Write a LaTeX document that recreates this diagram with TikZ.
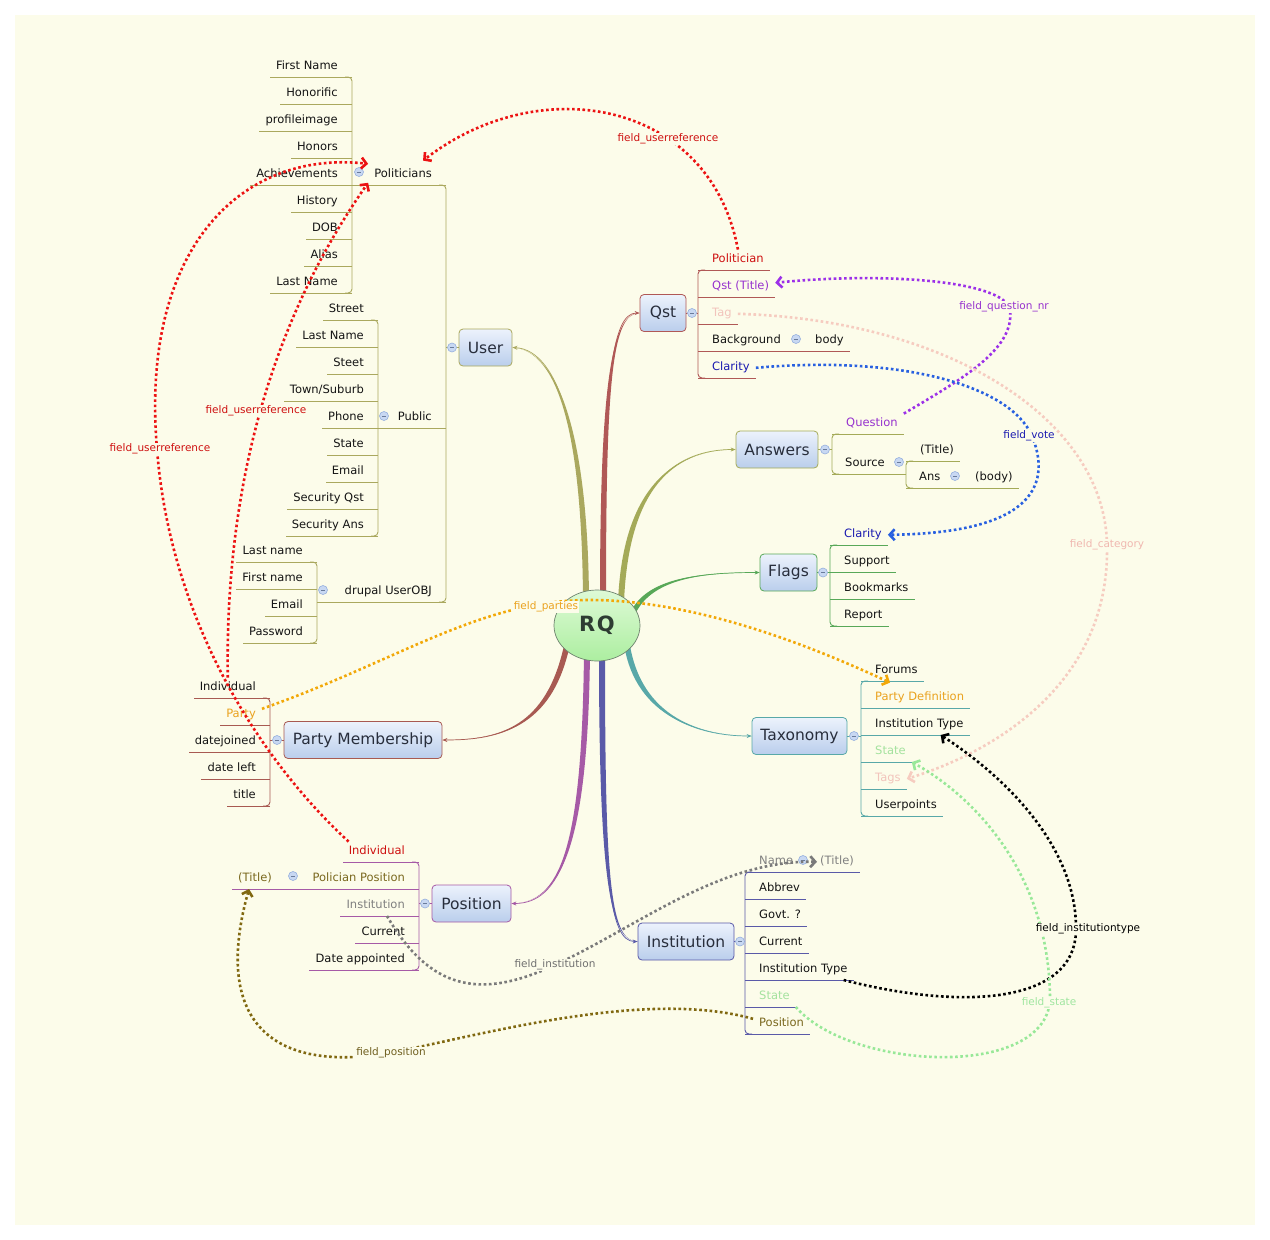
\documentclass[tikz,border=0pt]{standalone}
\usepackage{fontspec}
\setmainfont{DejaVu Sans}
\usetikzlibrary{arrows.meta,shapes.geometric,calc}

\definecolor{page}{RGB}{252,252,234}
\definecolor{ink}{RGB}{20,20,20}
\definecolor{topicInk}{RGB}{40,46,60}
\definecolor{topA}{RGB}{236,242,252}
\definecolor{topB}{RGB}{186,206,236}
\definecolor{rqA}{RGB}{222,250,214}
\definecolor{rqB}{RGB}{172,238,160}
\definecolor{rqD}{RGB}{110,130,110}
\definecolor{rqInk}{RGB}{45,60,50}
\definecolor{knobF}{RGB}{200,216,242}
\definecolor{knobD}{RGB}{150,176,222}
% branch colours
\definecolor{cUser}{RGB}{170,168,94}
\definecolor{cQst}{RGB}{176,88,86}
\definecolor{cAns}{RGB}{164,170,88}
\definecolor{cFlag}{RGB}{88,168,88}
\definecolor{cTax}{RGB}{88,168,168}
\definecolor{cInst}{RGB}{90,90,168}
\definecolor{cPos}{RGB}{166,90,166}
\definecolor{cPM}{RGB}{168,90,82}
% text colours
\definecolor{tRed}{RGB}{206,16,16}
\definecolor{tPurple}{RGB}{150,50,206}
\definecolor{tPink}{RGB}{242,196,188}
\definecolor{tBlue}{RGB}{26,26,176}
\definecolor{tOrange}{RGB}{234,162,30}
\definecolor{tGreen}{RGB}{164,226,158}
\definecolor{tGray}{RGB}{128,128,128}
\definecolor{tOlive}{RGB}{122,104,30}
% relationship colours
\definecolor{rRed}{RGB}{236,18,18}
\definecolor{rPurple}{RGB}{156,48,232}
\definecolor{rBlue}{RGB}{40,96,224}
\definecolor{rPink}{RGB}{246,204,192}
\definecolor{rOrange}{RGB}{242,168,8}
\definecolor{rGreen}{RGB}{152,232,152}
\definecolor{rGray}{RGB}{122,122,122}
\definecolor{rOlive}{RGB}{128,104,16}
\colorlet{br}{black}

\pgfdeclarelayer{back}
\pgfsetlayers{back,main}

\newcommand\kidfont{\fontsize{11.5}{13}\selectfont}
% vertical bracket joining the underlines of a group of children
\newcommand\spine[4]{\draw[tline,rounded corners=4pt] (#4,#2) -- (#1,#2) -- (#1,#3) -- (#4,#3);}
% child on the right / left of its bracket, underlined
\newcommand\rkid[5][]{\node[kid,anchor=south west,#1] (#2) at (#3+8,#4) {#5};
  \draw[tline] (#3,#4) -- (#2.south east);}
\newcommand\lkid[5][]{\node[kid,anchor=south east,#1] (#2) at (#3-8,#4) {#5};
  \draw[tline] (#3,#4) -- (#2.south west);}
% collapse button
\newcommand\knob[2]{\node[knob] (#1) at (#2) {};}

\begin{document}
\begin{tikzpicture}[x=1pt,y=-1pt,
  tline/.style={draw=br,line width=0.9pt},
  kid/.style={inner xsep=6pt,inner ysep=4.5pt,text height=8.6pt,text depth=2.4pt,font=\kidfont,text=ink},
  topic/.style={draw=br,line width=0.8pt,rounded corners=4pt,top color=topA,bottom color=topB,
    text=topicInk,font=\fontsize{15.5}{18}\selectfont,minimum height=37pt,inner xsep=6pt,inner ysep=0pt},
  knob/.style={circle,minimum size=9pt,inner sep=0pt,fill=knobF,draw=knobD,line width=0.6pt,
    path picture={\draw[knobD!70!black,line width=0.8pt]
      ([xshift=-2.2pt]path picture bounding box.center) -- ([xshift=2.2pt]path picture bounding box.center);}},
  rel/.style={line width=2.6pt,dash pattern=on 2.6pt off 2.6pt,-{Straight Barb[length=5pt,width=11pt]}},
  rlab/.style={font=\fontsize{10.5}{12}\selectfont,fill=page,inner sep=1.2pt},
  stem/.style={line width=0.7pt,-{Stealth[length=5pt,width=4pt]}}
]
\useasboundingbox (0,0) rectangle (1270,1240);
\begin{pgfonlayer}{back}
  \fill[white] (0,0) rectangle (1270,1240);
  \fill[page] (15,15) rectangle (1255,1225);
\end{pgfonlayer}

% central topic
\node[ellipse,minimum width=86pt,minimum height=71pt,inner sep=0pt,top color=rqA,bottom color=rqB,
  draw=rqD,line width=0.7pt,font=\fontsize{21}{24}\selectfont\bfseries,text=rqInk] (rq) at (597,625.5) {R\kern1.5ptQ};

% ---------------- User
\begin{scope}
\colorlet{br}{cUser}
\node[topic,minimum width=53pt] (user) at (485.5,347.5) {User};
\spine{446}{185}{602}{439}
\draw[tline] (446,347.5) -- (user.west);
\node[kid,anchor=south east] (politicians) at (438,185) {Politicians};
\draw[tline] (446,185) -- (352,185);
\spine{352}{77}{293}{345}
\lkid{firstname}{352}{77}{First Name}
\lkid{honorific}{352}{104}{Honorific}
\lkid{profileimage}{352}{131}{profileimage}
\lkid{honors}{352}{158}{Honors}
\lkid{achievements}{352}{185}{Achievements}
\lkid{history}{352}{212}{History}
\lkid{dob}{352}{239}{DOB}
\lkid{alias}{352}{266}{Alias}
\lkid{lastnameA}{352}{293}{Last Name}
\node[kid,anchor=south east] (public) at (438,428) {Public};
\draw[tline] (446,428) -- (378,428);
\spine{378}{320}{536}{371}
\lkid{street}{378}{320}{Street}
\lkid{lastnameB}{378}{347}{Last Name}
\lkid{steet}{378}{374}{Steet}
\lkid{town}{378}{401}{Town/Suburb}
\lkid{phone}{378}{428}{Phone}
\lkid{stateP}{378}{455}{State}
\lkid{emailP}{378}{482}{Email}
\lkid{secq}{378}{509}{Security Qst}
\lkid{seca}{378}{536}{Security Ans}
\node[kid,anchor=south east] (drupal) at (438,602) {drupal UserOBJ};
\draw[tline] (446,602) -- (317,602);
\spine{317}{562}{643}{310}
\lkid{lastnameC}{317}{562}{Last name}
\lkid{firstnameC}{317}{589}{First name}
\lkid{emailC}{317}{616}{Email}
\lkid{password}{317}{643}{Password}
\knob{kuser}{452,347.5}
\knob{kpol}{359,172}
\knob{kpub}{384,416}
\knob{kdru}{323,590}
\end{scope}

% ---------------- Qst
\begin{scope}
\colorlet{br}{cQst}
\node[topic,minimum width=46pt] (qst) at (663,313) {Qst};
\draw[tline] (qst.east) -- (698,313);
\spine{698}{270}{378}{705}
\rkid[text=tRed]{politician}{698}{270}{Politician}
\rkid[text=tPurple]{qsttitle}{698}{297}{Qst (Title)}
\rkid[text=tPink]{tag}{698}{324}{Tag}
\node[kid,anchor=south west] (background) at (706,351) {Background};
\node[kid,anchor=south west] (body) at (809,351) {body};
\draw[tline] (698,351) -- (body.south east);
\rkid[text=tBlue]{clarityQ}{698}{378}{Clarity}
\knob{kqst}{692,313}
\knob{kbg}{796,339}
\end{scope}

% ---------------- Answers
\begin{scope}
\colorlet{br}{cAns}
\node[topic,minimum width=82pt] (answers) at (777,449.5) {Answers};
\draw[tline] (answers.east) -- (832,449.5);
\spine{832}{434}{474}{839}
\rkid[text=tPurple]{question}{832}{434}{Question}
\node[kid,anchor=south west] (source) at (839,474) {Source};
\draw[tline] (832,474) -- (906,474);
\spine{906}{461}{488}{913}
\rkid{titleA}{906}{461}{(Title)}
\node[kid,anchor=south west] (ansk) at (913,488) {Ans};
\node[kid,anchor=south west] (ansbody) at (969,488) {(body)};
\draw[tline] (906,488) -- (ansbody.south east);
\knob{kans}{825,449.5}
\knob{ksrc}{899,462}
\knob{kansb}{955,476}
\end{scope}

% ---------------- Flags
\begin{scope}
\colorlet{br}{cFlag}
\node[topic,minimum width=57pt] (flags) at (788.5,572.5) {Flags};
\draw[tline] (flags.east) -- (830,572.5);
\spine{830}{545}{626}{837}
\rkid[text=tBlue]{clarityF}{830}{545}{Clarity}
\rkid{support}{830}{572}{Support}
\rkid{bookmarks}{830}{599}{Bookmarks}
\rkid{report}{830}{626}{Report}
\knob{kflag}{823,572.5}
\end{scope}

% ---------------- Taxonomy
\begin{scope}
\colorlet{br}{cTax}
\node[topic,minimum width=95pt] (taxonomy) at (799.5,736) {Taxonomy};
\draw[tline] (taxonomy.east) -- (861,736);
\spine{861}{681}{816}{868}
\rkid{forums}{861}{681}{Forums}
\rkid[text=tOrange]{partydef}{861}{708}{Party Definition}
\rkid{instT1}{861}{735}{Institution Type}
\rkid[text=tGreen]{stateT}{861}{762}{State}
\rkid[text=tPink]{tags}{861}{789}{Tags}
\rkid{userpoints}{861}{816}{Userpoints}
\knob{ktax}{854,736}
\end{scope}

% ---------------- Institution
\begin{scope}
\colorlet{br}{cInst}
\node[topic,minimum width=96pt] (institution) at (686,941.5) {Institution};
\draw[tline] (institution.east) -- (745,941.5);
\spine{745}{872}{1034}{752}
\node[kid,anchor=south west,text=tGray] (name) at (753,872) {Name};
\node[kid,anchor=south west,text=tGray] (nameT) at (814,872) {(Title)};
\draw[tline] (745,872) -- (nameT.south east);
\rkid{abbrev}{745}{899}{Abbrev}
\rkid{govt}{745}{926}{Govt. ?}
\rkid{currentI}{745}{953}{Current}
\rkid{instT2}{745}{980}{Institution Type}
\rkid[text=tGreen]{stateI}{745}{1007}{State}
\rkid[text=tOlive]{posI}{745}{1034}{Position}
\knob{kinst}{740,941.5}
\knob{kname}{803,860}
\end{scope}

% ---------------- Position
\begin{scope}
\colorlet{br}{cPos}
\node[topic,minimum width=79pt] (position) at (471.5,903.5) {Position};
\draw[tline] (position.west) -- (419,903.5);
\spine{419}{862}{970}{412}
\lkid[text=tRed]{indivP}{419}{862}{Individual}
\node[kid,anchor=south east,text=tOlive] (polpos) at (411,889) {Polician Position};
\node[kid,anchor=south east,text=tOlive] (ptitle) at (278,889) {(Title)};
\draw[tline] (419,889) -- (ptitle.south west);
\lkid[text=tGray]{instP}{419}{916}{Institution}
\lkid{currentP}{419}{943}{Current}
\lkid{dateapp}{419}{970}{Date appointed}
\knob{kpos}{425,903.5}
\knob{kpp}{293,876}
\end{scope}

% ---------------- Party Membership
\begin{scope}
\colorlet{br}{cPM}
\node[topic,minimum width=158pt] (pm) at (363,740) {Party Membership};
\draw[tline] (pm.west) -- (270,740);
\spine{270}{698}{806}{263}
\lkid{indivPM}{270}{698}{Individual}
\lkid[text=tOrange]{party}{270}{725}{Party}
\lkid{datejoined}{270}{752}{datejoined}
\lkid{dateleft}{270}{779}{date left}
\lkid{titleP}{270}{806}{title}
\knob{kpm}{277,740}
\end{scope}

% ---------------- tapered main branches (behind the central topic)
\begin{pgfonlayer}{back}
\fill[cUser] (583,600) .. controls (582,440) and (560,350) .. (user.east) .. controls (560,350) and (588,440) .. (589,600) -- cycle;
\draw[cUser,stem] ($(rq.center)+(-11,-25)$) .. controls (585,440) and (560,350) .. (user.east);
\fill[cQst] (600,600) .. controls (600,380) and (612,313) .. (qst.west) .. controls (612,313) and (606,380) .. (606,600) -- cycle;
\draw[cQst,stem] ($(rq.center)+(6,-25)$) .. controls (603,380) and (612,313) .. (qst.west);
\fill[cAns] (618,602) .. controls (623,480) and (680,449.5) .. (answers.west) .. controls (680,449.5) and (629,480) .. (624,602) -- cycle;
\draw[cAns,stem] ($(rq.center)+(24,-23)$) .. controls (626,480) and (680,449.5) .. (answers.west);
\fill[cFlag] (629.7,614) .. controls (645.7,577) and (700,572.5) .. (flags.west) .. controls (700,572.5) and (650.3,579) .. (634.3,616) -- cycle;
\draw[cFlag,stem] ($(rq.center)+(35,-10.5)$) .. controls (648,578) and (700,572.5) .. (flags.west);
\fill[cTax] (624.2,645.5) .. controls (636.2,718) and (700,736) .. (taxonomy.west) .. controls (700,736) and (641.8,717) .. (629.8,644.5) -- cycle;
\draw[cTax,stem] ($(rq.center)+(30,19.5)$) .. controls (639,718) and (700,736) .. (taxonomy.west);
\fill[cInst] (599,652) .. controls (599,880) and (610,941.5) .. (institution.west) .. controls (610,941.5) and (605,880) .. (605,652) -- cycle;
\draw[cInst,stem] ($(rq.center)+(5,26.5)$) .. controls (602,880) and (610,941.5) .. (institution.west);
\fill[cPos] (584,652) .. controls (582,850) and (560,903.5) .. (position.east) .. controls (560,903.5) and (588,850) .. (590,652) -- cycle;
\draw[cPos,stem] ($(rq.center)+(-10,26.5)$) .. controls (585,850) and (560,903.5) .. (position.east);
\fill[cPM] (564.25,644.4) .. controls (546.25,727.4) and (500,740) .. (pm.east) .. controls (500,740) and (551.75,728.6) .. (569.75,645.6) -- cycle;
\draw[cPM,stem] ($(rq.center)+(-30,19.5)$) .. controls (549,728) and (500,740) .. (pm.east);
\end{pgfonlayer}

% ---------------- relationships
\draw[rel,rRed] (politician.north) .. controls (710,100) and (540,70) .. ([xshift=20pt,yshift=4pt]politicians.north);
\draw[rel,rRed] ([xshift=6pt]indivP.north west) .. controls (260,760) and (170,620) .. (157,449)
  .. controls (140,250) and (240,150) .. ([yshift=11pt]politicians.west);
\draw[rel,rRed] (indivPM.north) .. controls (225,500) and (265,330) .. ([yshift=-8pt]politicians.west);
\draw[rel,rPurple] (question.north east) .. controls (960,380) and (1015,350) .. (1010,310)
  .. controls (1005,280) and (880,272) .. ([yshift=4pt]qsttitle.east);
\draw[rel,rBlue] (clarityQ.east) .. controls (900,355) and (1010,385) .. (1032,436)
  .. controls (1050,480) and (1040,533) .. (clarityF.east);
\draw[rel,rPink] (tag.east) .. controls (950,320) and (1105,420) .. (1107,545)
  .. controls (1110,680) and (1000,750) .. (tags.east);
\draw[rel,rOrange] ([yshift=6pt]party.east) .. controls (400,660) and (480,600) .. (590,600)
  .. controls (700,600) and (820,650) .. ([xshift=21pt,yshift=5pt]partydef.north west);
\draw[rel,black] ([xshift=-10pt]instT2.south east) .. controls (960,1010) and (1075,1005) .. (1076,930)
  .. controls (1077,850) and (1010,780) .. ([xshift=-29pt]instT1.south east);
\draw[rel,rGreen] (stateI.south east) .. controls (850,1070) and (1045,1080) .. (1050,1000)
  .. controls (1050,880) and (980,800) .. (stateT.south east);
\draw[rel,rGray] ([xshift=-24pt]instP.south east) .. controls (430,990) and (480,1000) .. (555,965)
  .. controls (640,925) and (720,860) .. ([xshift=3pt]nameT.west);
\draw[rel,rOlive] ([yshift=5pt]posI.west) .. controls (650,990) and (500,1030) .. (391,1053)
  .. controls (260,1075) and (215,1010) .. ([xshift=-6pt]ptitle.south);

% ---------------- relationship labels
\node[rlab,text=tRed] (lab1) at (668,139) {field\_userreference};
\node[rlab,text=tRed] (lab2) at (160,449) {field\_userreference};
\node[rlab,text=tRed] (lab3) at (256,411) {field\_userreference};
\node[rlab,text=tPurple] (lab4) at (1004,307) {field\_question\_nr};
\node[rlab,text=tBlue] (lab5) at (1029,436) {field\_vote};
\node[rlab,text={rgb,255:red,240;green,184;blue,176}] (lab6) at (1107,545) {field\_category};
\node[rlab,text=tOrange] (lab7) at (546,607) {field\_parties};
\node[rlab,text=black] (lab8) at (1088,929) {field\_institutiontype};
\node[rlab,text={rgb,255:red,160;green,230;blue,160}] (lab9) at (1049,1003) {field\_state};
\node[rlab,text={rgb,255:red,112;green,112;blue,112}] (lab10) at (555,965) {field\_institution};
\node[rlab,text={rgb,255:red,112;green,96;blue,32}] (lab11) at (391,1053) {field\_position};
\end{tikzpicture}
\end{document}
